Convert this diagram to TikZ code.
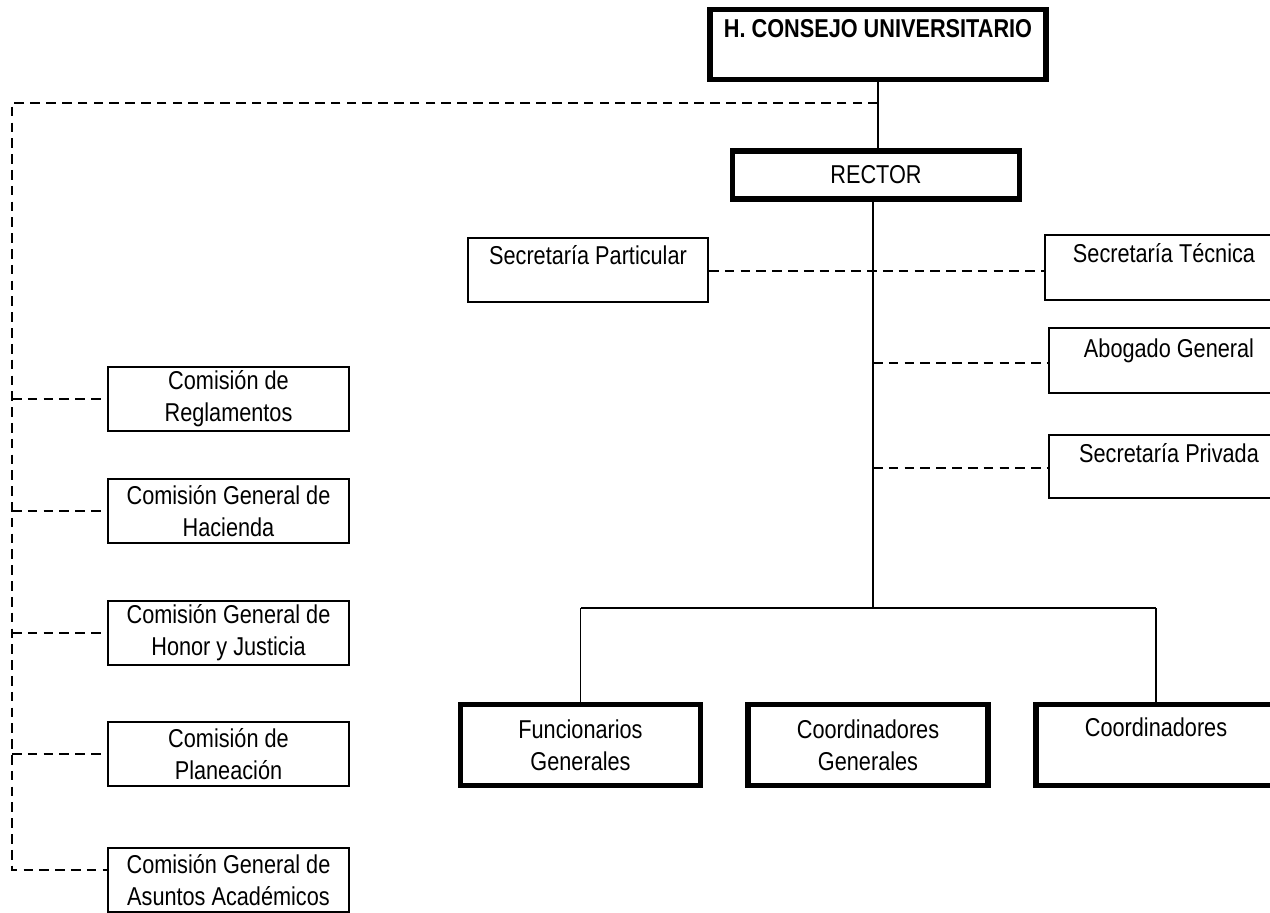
\documentclass[tikz,border=0pt]{standalone}
\usepackage{fontspec}
\setmainfont[FakeStretch=0.84]{Liberation Sans}
\newcommand\pxu{0.02cm}
\newcommand\topline[2]{\strut #1\\[#2]\strut}
\begin{document}
\begin{tikzpicture}[x=0.02cm,y=-0.02cm,
  boxbase/.style={draw, inner sep=0pt, align=center, font=\fontsize{14.7}{18.1}\selectfont},
  thinbox/.style={boxbase, line width=1.1pt},
  thickbox/.style={boxbase, line width=3pt},
  conn/.style={line width=1pt},
  dconn/.style={line width=1pt, dash pattern=on 5.5pt off 3.5pt}]
\useasboundingbox (0,0) rectangle (1270,912);
\clip (0,0) rectangle (1270,912);
% top
\node[thickbox, minimum width=336*\pxu, minimum height=70*\pxu] (consejo) at (878,44.5) {\topline{\textbf{H. CONSEJO UNIVERSITARIO}}{-2.4pt}};
\node[thickbox, minimum width=287*\pxu, minimum height=48*\pxu] (rector) at (876,175) {RECTOR};
% staff
\node[thinbox, minimum width=240*\pxu, minimum height=64*\pxu] (secpart) at (588,270) {\topline{Secretaría Particular}{-4.1pt}};
\node[thinbox, minimum width=238*\pxu, minimum height=65*\pxu] (sectec) at (1164,267.5) {\topline{Secretaría Técnica}{-4.7pt}};
\node[thinbox, minimum width=240*\pxu, minimum height=65*\pxu] (abogado) at (1169,360.5) {\topline{Abogado General}{-6.9pt}};
\node[thinbox, minimum width=240*\pxu, minimum height=63*\pxu] (privada) at (1169,466.5) {\topline{Secretaría Privada}{-5.8pt}};
% commissions
\node[thinbox, minimum width=241*\pxu, minimum height=64*\pxu] (reg) at (228.5,399) {Comisión de\\Reglamentos};
\node[thinbox, minimum width=241*\pxu, minimum height=64*\pxu] (hac) at (228.5,511) {Comisión General de\\Hacienda};
\node[thinbox, minimum width=241*\pxu, minimum height=64*\pxu] (hon) at (228.5,633) {Comisión General de\\Honor y Justicia};
\node[thinbox, minimum width=241*\pxu, minimum height=64*\pxu] (plan) at (228.5,754) {Comisión de\\Planeación};
\node[thinbox, minimum width=241*\pxu, minimum height=64*\pxu] (asun) at (228.5,880) {Comisión General de\\Asuntos Académicos};
% bottom
\node[thickbox, minimum width=240*\pxu, minimum height=81*\pxu] (func) at (580.5,745) {Funcionarios\\Generales};
\node[thickbox, minimum width=240*\pxu, minimum height=81*\pxu] (cgen) at (868,745) {Coordinadores\\Generales};
\node[thickbox, minimum width=240*\pxu, minimum height=81*\pxu] (coord) at (1156,745) {\topline{Coordinadores}{-0.7pt}};
% coordinates
\coordinate (cj) at (878,103);
\coordinate (lt) at (12,103);
\coordinate (lb) at (12,870);
\coordinate (trunk) at (873,608);
\coordinate (barL) at (func.north |- trunk);
\coordinate (barR) at (coord.north |- trunk);
% solid connectors
\draw[conn] (consejo.south) -- (consejo.south |- rector.north);
\draw[conn] (rector.south -| trunk) -- (trunk);
\draw[conn] (barL) -- (barR);
\draw[conn] (barL) -- (func.north);
\draw[conn] (barR) -- (coord.north);
% dashed
\draw[dconn] (cj) -- (lt) -- (lb) -- (lb -| asun.west);
\draw[dconn] (lt |- reg.west) -- (reg.west);
\draw[dconn] (lt |- hac.west) -- (hac.west);
\draw[dconn] (lt |- hon.west) -- (hon.west);
\draw[dconn] (lt |- plan.west) -- (plan.west);
\draw[dconn] (secpart.east |- 0,271) -- (sectec.west |- 0,271);
\draw[dconn] (trunk |- 0,363) -- (abogado.west |- 0,363);
\draw[dconn] (trunk |- 0,468) -- (privada.west |- 0,468);
\end{tikzpicture}
\end{document}
